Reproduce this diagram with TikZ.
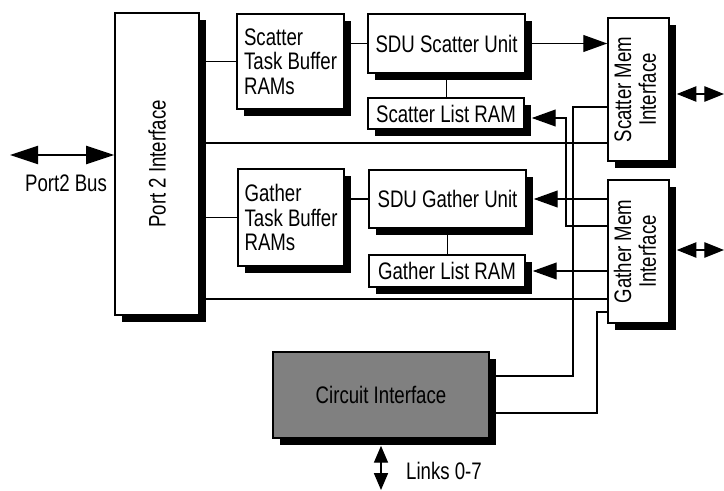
\documentclass[tikz,border=0pt]{standalone}
\usepackage{fontspec}
\setmainfont{Liberation Sans}[FakeStretch=0.78]
\usepackage{tikz}
\usetikzlibrary{arrows.meta,shadows}
\definecolor{ink}{HTML}{000000}
\definecolor{cigray}{HTML}{808080}
\tikzset{
  unitbox/.style={draw=ink,fill=white,line width=1.1pt,inner sep=2pt,
                  font=\fontsize{17pt}{17.5pt}\selectfont,
                  drop shadow={shadow xshift=5pt,shadow yshift=-5pt,
                               fill=ink,opacity=1}},
  greybox/.style={unitbox,fill=cigray},
  wire/.style={draw=ink,line width=0.9pt},
  arr/.style={wire,-{Triangle[length=17pt,width=12pt]}},
  duplex/.style={wire,{Triangle[length=14pt,width=11pt]}-{Triangle[length=14pt,width=11pt]}},
  tag/.style={font=\fontsize{17pt}{17.5pt}\selectfont,inner sep=1pt}
}
\begin{document}
\begin{tikzpicture}[x=0.25mm,y=0.25mm]
    \useasboundingbox (0,0) rectangle (724,490);
    % port side
    \node[unitbox,minimum width=21mm,minimum height=75.5mm] (port2) at (157,326)
      {\rotatebox{90}{Port 2 Interface}};
    \node[unitbox,align=left,minimum width=26.75mm,minimum height=23.75mm]
      (scattertb) at (290.5,428.5) {Scatter\\Task Buffer\\RAMs};
    \node[unitbox,align=left,minimum width=26.5mm,minimum height=24.25mm]
      (gathertb) at (291,272.5) {Gather\\Task Buffer\\RAMs};

    % SDU units and list RAMs
    \node[unitbox,minimum width=39.25mm,minimum height=14.75mm] (scatterunit)
      at (446.5,446.5) {SDU Scatter Unit};
    \node[unitbox,minimum width=39mm,minimum height=7.75mm] (scatterlist)
      at (446,376.5) {Scatter List RAM};
    \node[unitbox,minimum width=39.25mm,minimum height=14.5mm] (gatherunit)
      at (447.5,291) {SDU Gather Unit};
    \node[unitbox,minimum width=39mm,minimum height=8mm] (gatherlist)
      at (447,219) {Gather List RAM};

    % memory interfaces
    \node[unitbox,minimum width=15.25mm,minimum height=35.75mm] (scattermem)
      at (638.5,400.5)
      {\rotatebox{90}{\begin{tabular}{@{}c@{}}Scatter Mem\\Interface\end{tabular}}};
    \node[unitbox,minimum width=15.25mm,minimum height=35.75mm] (gathermem)
      at (638.5,238.5)
      {\rotatebox{90}{\begin{tabular}{@{}c@{}}Gather Mem\\Interface\end{tabular}}};

    \node[greybox,minimum width=54mm,minimum height=21.5mm] (circuit)
      at (381,95) {Circuit Interface};

    % outside ports
    \coordinate (busend) at (10,335);
    \coordinate (scatterport) at (724,396);
    \coordinate (gatherport) at (724,240);
    \coordinate (linksend) at (381,0);
    \draw[wire,{Triangle[length=20pt,width=13pt]}-{Triangle[length=20pt,width=13pt]}]
      (busend) -- (busend -| port2.west);
    \node[tag] (busname) at (66,307) {Port2 Bus};
    \draw[duplex,shorten <=5pt] (scatterport -| scattermem.east) -- (scatterport);
    \draw[duplex,shorten <=5pt] (gatherport -| gathermem.east) -- (gatherport);
    \draw[wire,{Triangle[length=12pt,width=10pt]}-{Triangle[length=12pt,width=10pt]},
      shorten <=5pt] (circuit.south) -- (linksend);
    \node[tag] (linksname) at (444,19) {Links 0-7};

    % internal connections
    \draw[wire] (scattertb.west) -- (scattertb.west -| port2.east);
    \draw[wire] (gathertb.west) -- (gathertb.west -| port2.east);
    \draw[wire] (scatterunit.west) -- (scatterunit.west -| scattertb.east);
    \draw[wire] (gatherunit.west) -- (gatherunit.west -| gathertb.east);
    \draw[wire] (scatterunit.south) -- (scatterunit.south |- scatterlist.north);
    \draw[wire] (gatherunit.south) -- (gatherunit.south |- gatherlist.north);
    \draw[arr] (scatterunit.east) -- (scatterunit.east -| scattermem.west);

    \coordinate (scattertap) at (608,347);
    \coordinate (gathertap) at (608,191);
    \draw[wire] (scattertap) -- (scattertap -| port2.east);
    \draw[wire] (gathertap) -- (gathertap -| port2.east);

    \draw[arr,shorten >=5pt] (gatherunit.east -| gathermem.west) -- (gatherunit.east);
    \draw[arr,shorten >=5pt] (gatherlist.east -| gathermem.west) -- (gatherlist.east);
    \coordinate (listturn) at (566,264);
    \draw[arr,shorten >=5pt] (listturn -| gathermem.west) -- (listturn)
      |- ([yshift=-3.2pt]scatterlist.east);

    \coordinate (circuitup) at (573,383);
    \coordinate (circuitdown) at (597,178);
    \draw[wire] ([yshift=13.5pt]circuit.east) -| (circuitup)
      -- (circuitup -| scattermem.west);
    \draw[wire] ([yshift=-12.8pt]circuit.east) -| (circuitdown)
      -- (circuitdown -| gathermem.west);
\end{tikzpicture}
\end{document}
